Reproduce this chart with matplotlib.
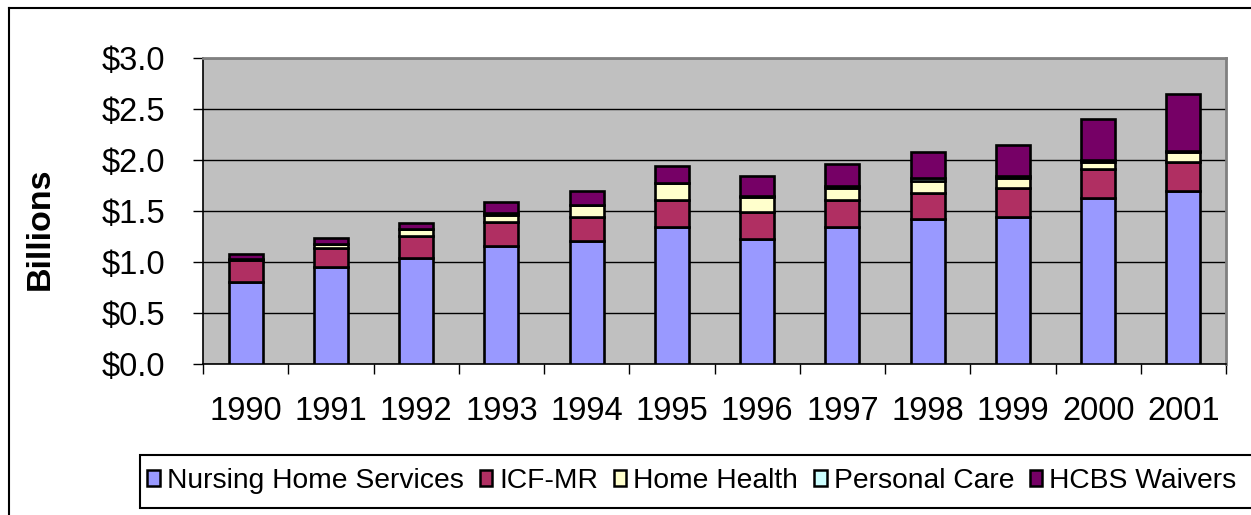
import matplotlib
matplotlib.use("Agg")
import matplotlib.pyplot as plt
import numpy as np
from matplotlib.lines import Line2D
from matplotlib.patches import Rectangle

plt.rcParams['font.family'] = ['Liberation Sans', 'DejaVu Sans']

years = ['1990', '1991', '1992', '1993', '1994', '1995', '1996', '1997', '1998', '1999', '2000', '2001']
nursing_home = [0.80, 0.95, 1.04, 1.16, 1.21, 1.345, 1.23, 1.345, 1.42, 1.445, 1.63, 1.70]
icf_mr = [0.22, 0.185, 0.215, 0.235, 0.23, 0.26, 0.26, 0.265, 0.26, 0.28, 0.285, 0.28]
home_health = [0.01, 0.045, 0.065, 0.07, 0.12, 0.165, 0.15, 0.12, 0.11, 0.10, 0.065, 0.095]
personal_care = [0.0, 0.0, 0.0, 0.02, 0.0, 0.0, 0.01, 0.02, 0.03, 0.02, 0.02, 0.01]
hcbs_waivers = [0.045, 0.06, 0.06, 0.10, 0.14, 0.17, 0.19, 0.21, 0.26, 0.30, 0.405, 0.56]

series_names = ['Nursing Home Services', 'ICF-MR', 'Home Health', 'Personal Care', 'HCBS Waivers']
series_values = [nursing_home, icf_mr, home_health, personal_care, hcbs_waivers]
colors = ['#9999FF', '#B02F62', '#FFFFCC', '#CCFFFF', '#760066']
yticks = [0.0, 0.5, 1.0, 1.5, 2.0, 2.5, 3.0]

W, H = 1251, 515
fig = plt.figure(figsize=(W / 100, H / 100), dpi=100)
ax = fig.add_axes([203 / W, 1 - 364 / H, (1226 - 203) / W, (364 - 58) / H])
ax.set_facecolor('#C0C0C0')

x = np.arange(len(years))
bottom = np.zeros(len(years))
handles = []
for name, vals, c in zip(series_names, series_values, colors):
    vals = np.array(vals)
    b = ax.bar(x, vals, width=0.4, bottom=bottom, color=c, edgecolor='black',
               linewidth=1.9, label=name, zorder=3)
    handles.append(b)
    bottom = bottom + vals

ax.set_xlim(-0.5, len(years) - 0.5)
ax.set_ylim(0, 3.0)
ax.set_yticks(yticks)
ax.set_yticklabels(['${:.1f}'.format(v) for v in yticks], fontsize=23.5)
ax.yaxis.grid(True, color='black', linewidth=1.0, zorder=0)
ax.set_axisbelow(True)
ax.tick_params(axis='y', direction='out', length=7.2, width=1, pad=20)

ax.set_xticks(x)
ax.set_xticklabels(years, fontsize=23.5)
ax.set_xticks(np.arange(-0.5, len(years)), minor=True)
ax.tick_params(axis='x', which='major', length=0, pad=23)
ax.tick_params(axis='x', which='minor', direction='out', length=7.2, width=1)

for s in ['top', 'right']:
    ax.spines[s].set_color('#808080')
    ax.spines[s].set_linewidth(2)
for s in ['left', 'bottom']:
    ax.spines[s].set_color('black')
    ax.spines[s].set_linewidth(1.2)

fig.text(40 / W, 1 - 229 / H, 'Billions', rotation=90, ha='center', va='center',
         fontsize=24.5, fontweight='bold')

# outer chart border (cropped at right and bottom)
fig.add_artist(Line2D([9 / W, 9 / W], [1 - 8 / H, 0], transform=fig.transFigure,
                      color='black', linewidth=1.5))
fig.add_artist(Line2D([9 / W, 1], [1 - 8 / H, 1 - 8 / H], transform=fig.transFigure,
                      color='black', linewidth=1.5))

# legend box
fig.add_artist(Rectangle((140 / W, 1 - 508 / H), (1270 - 140) / W, (508 - 455) / H,
                         transform=fig.transFigure, facecolor='white',
                         edgecolor='black', linewidth=1.5))
leg = fig.legend(handles=handles, labels=series_names, loc='center',
                 bbox_to_anchor=(692 / W, 1 - 481 / H), ncol=5, frameon=False,
                 fontsize=20.3, handlelength=0.45, handleheight=0.45,
                 handletextpad=0.25, columnspacing=0.55, borderaxespad=0)
for p in leg.get_patches():
    p.set_linewidth(1.8)

fig.savefig('out.png', dpi=100)
